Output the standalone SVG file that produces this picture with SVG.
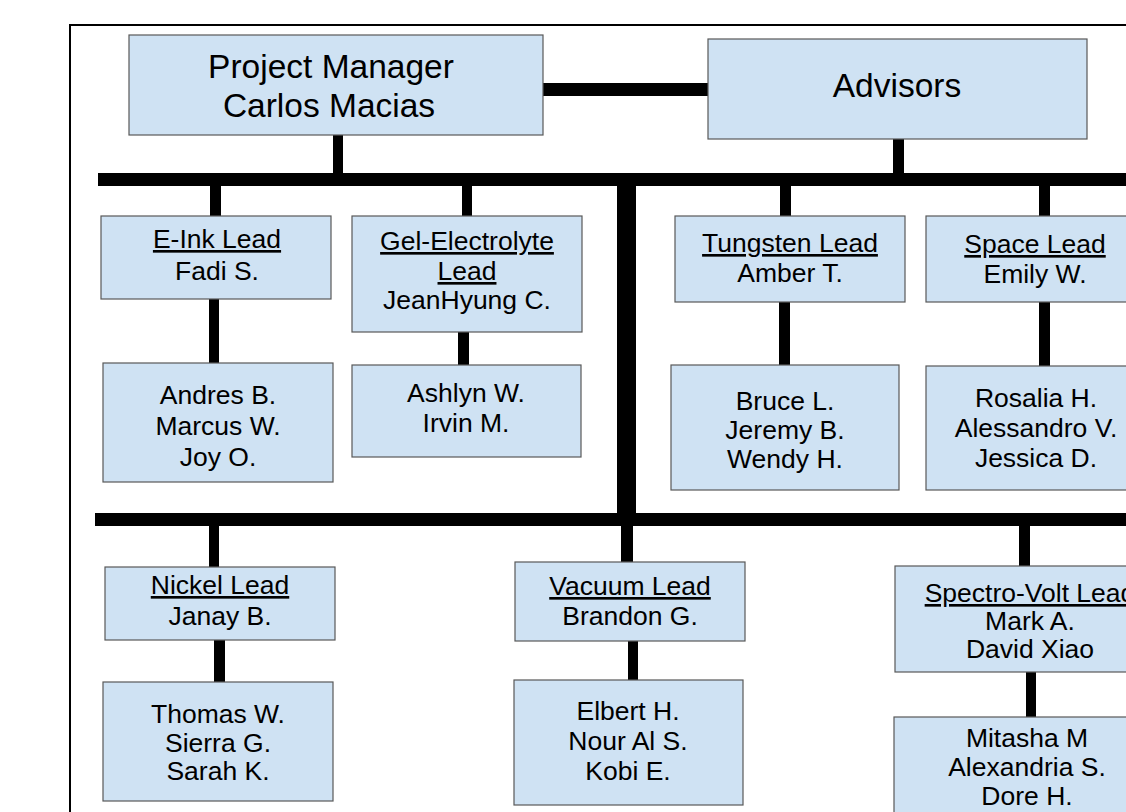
<svg xmlns="http://www.w3.org/2000/svg" width="1126" height="812" viewBox="0 0 1126 812">
<style>
.box{fill:#cfe2f3;stroke:#595959;stroke-width:1.2}
.t{font-family:"Liberation Sans",Arial,sans-serif;font-size:26.5px;fill:#000;text-anchor:middle}
.big{font-family:"Liberation Sans",Arial,sans-serif;font-size:33.5px;fill:#000;text-anchor:middle}
.u{text-decoration:underline}
.bar{fill:#000}
</style>
<rect x="0" y="0" width="1126" height="812" fill="#fff"/>
<path d="M70,812 V25 H1126" fill="none" stroke="#000" stroke-width="2"/>
<g id="connectors">
<rect class="bar" x="543" y="83" width="165" height="13"/>
<rect class="bar" x="333" y="135" width="10" height="39"/>
<rect class="bar" x="893" y="139" width="11" height="35"/>
<rect class="bar" x="98" y="173" width="1028" height="13"/>
<rect class="bar" x="617" y="173" width="19" height="353"/>
<rect class="bar" x="95" y="513" width="1031" height="13"/>
<rect class="bar" x="210" y="186" width="11" height="30"/>
<rect class="bar" x="209" y="299" width="10" height="64"/>
<rect class="bar" x="462" y="186" width="10" height="30"/>
<rect class="bar" x="458" y="332" width="11" height="33"/>
<rect class="bar" x="780" y="186" width="11" height="30"/>
<rect class="bar" x="779" y="302" width="11" height="63"/>
<rect class="bar" x="1039" y="186" width="11" height="30"/>
<rect class="bar" x="1039" y="302" width="11" height="64"/>
<rect class="bar" x="209" y="526" width="10" height="41"/>
<rect class="bar" x="214" y="640" width="11" height="42"/>
<rect class="bar" x="621" y="526" width="12" height="36"/>
<rect class="bar" x="628" y="641" width="10" height="39"/>
<rect class="bar" x="1019" y="526" width="11" height="40"/>
<rect class="bar" x="1026" y="672" width="10" height="45"/>
</g>
<g id="pm">
<rect class="box" x="129" y="35" width="414" height="100"/>
<text class="big" x="331" y="78">Project Manager</text>
<text class="big" x="329" y="117">Carlos Macias</text>
</g>
<g id="advisors">
<rect class="box" x="708" y="39" width="379" height="100"/>
<text class="big" x="897" y="97">Advisors</text>
</g>
<g id="eink-lead">
<rect class="box" x="101" y="216" width="230" height="83"/>
<text class="t u" x="217" y="248">E-Ink Lead</text>
<text class="t" x="217" y="280">Fadi S.</text>
</g>
<g id="eink-team">
<rect class="box" x="103" y="363" width="230" height="119"/>
<text class="t" x="218" y="404">Andres B.</text>
<text class="t" x="218" y="435">Marcus W.</text>
<text class="t" x="218" y="466">Joy O.</text>
</g>
<g id="gel-lead">
<rect class="box" x="352" y="216" width="230" height="116"/>
<text class="t u" x="467" y="250">Gel-Electrolyte</text>
<text class="t u" x="467" y="280">Lead</text>
<text class="t" x="467" y="309">JeanHyung C.</text>
</g>
<g id="gel-team">
<rect class="box" x="352" y="365" width="229" height="92"/>
<text class="t" x="466" y="402">Ashlyn W.</text>
<text class="t" x="466" y="432">Irvin M.</text>
</g>
<g id="tungsten-lead">
<rect class="box" x="675" y="216" width="230" height="86"/>
<text class="t u" x="790" y="252">Tungsten Lead</text>
<text class="t" x="790" y="282">Amber T.</text>
</g>
<g id="tungsten-team">
<rect class="box" x="671" y="365" width="228" height="125"/>
<text class="t" x="785" y="410">Bruce L.</text>
<text class="t" x="785" y="439">Jeremy B.</text>
<text class="t" x="785" y="468">Wendy H.</text>
</g>
<g id="space-lead">
<rect class="box" x="926" y="216" width="230" height="86"/>
<text class="t u" x="1035" y="253">Space Lead</text>
<text class="t" x="1035" y="283">Emily W.</text>
</g>
<g id="space-team">
<rect class="box" x="926" y="366" width="230" height="124"/>
<text class="t" x="1036" y="407">Rosalia H.</text>
<text class="t" x="1036" y="437">Alessandro V.</text>
<text class="t" x="1036" y="467">Jessica D.</text>
</g>
<g id="nickel-lead">
<rect class="box" x="105" y="567" width="230" height="73"/>
<text class="t u" x="220" y="594">Nickel Lead</text>
<text class="t" x="220" y="625">Janay B.</text>
</g>
<g id="nickel-team">
<rect class="box" x="103" y="682" width="230" height="119"/>
<text class="t" x="218" y="723">Thomas W.</text>
<text class="t" x="218" y="752">Sierra G.</text>
<text class="t" x="218" y="780">Sarah K.</text>
</g>
<g id="vacuum-lead">
<rect class="box" x="515" y="562" width="230" height="79"/>
<text class="t u" x="630" y="595">Vacuum Lead</text>
<text class="t" x="630" y="625">Brandon G.</text>
</g>
<g id="vacuum-team">
<rect class="box" x="514" y="680" width="229" height="125"/>
<text class="t" x="628" y="720">Elbert H.</text>
<text class="t" x="628" y="750">Nour Al S.</text>
<text class="t" x="628" y="780">Kobi E.</text>
</g>
<g id="spectro-lead">
<rect class="box" x="895" y="566" width="270" height="106"/>
<text class="t u" x="1030" y="602">Spectro-Volt Lead</text>
<text class="t" x="1030" y="630">Mark A.</text>
<text class="t" x="1030" y="658">David Xiao</text>
</g>
<g id="spectro-team">
<rect class="box" x="894" y="717" width="270" height="120"/>
<text class="t" x="1027" y="747">Mitasha M</text>
<text class="t" x="1027" y="776">Alexandria S.</text>
<text class="t" x="1027" y="805">Dore H.</text>
</g>
</svg>
